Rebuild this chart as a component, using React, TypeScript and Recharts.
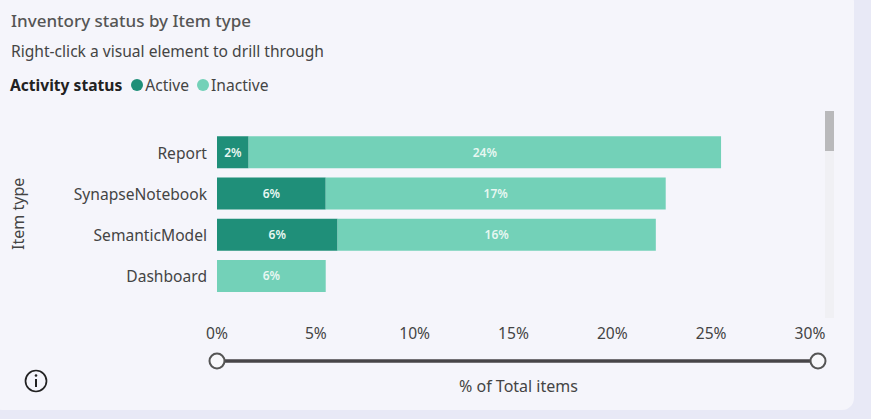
/**
 * Inventory status by item type, stacked horizontal bars
 */
import { BarChart, Bar, XAxis, YAxis, Legend, LabelList } from 'recharts';

const itemTypes = ['Report', 'SynapseNotebook', 'SemanticModel', 'Dashboard'];
const activeShare = [1.6, 5.5, 6.1, 0];
const inactiveShare = [23.9, 17.2, 16.1, 5.5];
const xTicks = [0, 5, 10, 15, 20, 25, 30];

const data = itemTypes.map((type, i) => ({
  type,
  active: activeShare[i],
  inactive: inactiveShare[i],
}));

const FONT = '"Noto Sans", sans-serif';
const ACTIVE_COLOR = '#1f8f79';
const INACTIVE_COLOR = '#73d1b8';

const formatLabel = (value: any) => (value ? `${Math.round(value)}%` : '');

const StatusLegend = () => (
  <div style={{ display: 'flex', alignItems: 'center', fontSize: 15.6, lineHeight: '20px', color: '#444' }}>
    <span style={{ fontWeight: 700, color: '#222', marginRight: 9 }}>Activity status</span>
    <span style={{ width: 12, height: 12, borderRadius: '50%', background: ACTIVE_COLOR, marginRight: 2 }} />
    <span style={{ marginRight: 8 }}>Active</span>
    <span style={{ width: 12, height: 12, borderRadius: '50%', background: INACTIVE_COLOR, marginRight: 2 }} />
    <span>Inactive</span>
  </div>
);

export default function App() {
  return (
    <div
      style={{
        position: 'fixed',
        left: 0,
        top: 0,
        width: 871,
        height: 419,
        overflow: 'hidden',
        background: '#e8e9f6',
        fontFamily: FONT,
      }}
    >
      {/* card */}
      <div
        style={{
          position: 'absolute',
          left: -10,
          top: -10,
          width: 864,
          height: 420,
          borderRadius: 12,
          background: '#f5f5fb',
        }}
      />
      <div style={{ position: 'absolute', left: 11, top: 9, fontSize: 17, color: '#555', fontWeight: 500 }}>
        Inventory status by Item type
      </div>
      <div style={{ position: 'absolute', left: 11, top: 40, fontSize: 15.6, color: '#444' }}>
        Right-click a visual element to drill through
      </div>

      <div style={{ position: 'absolute', left: 0, top: 0 }}>
        <BarChart
          width={871}
          height={419}
          data={data}
          layout="vertical"
          barCategoryGap={4.85}
          margin={{ top: 111.5, right: 61, bottom: 0, left: 0 }}
        >
          <XAxis
            type="number"
            domain={[0, 30]}
            ticks={xTicks}
            interval={0}
            height={122.7}
            axisLine={false}
            tickLine={false}
            tickSize={0}
            tickFormatter={(v) => `${v}%`}
            tick={{ fontSize: 15.6, fill: '#444', fontFamily: FONT, dy: 30 }}
            label={{
              value: '% of Total items',
              position: 'insideBottom',
              offset: 27,
              dx: 5,
              fontSize: 16,
              fill: '#444',
              fontFamily: FONT,
            }}
          />
          <YAxis
            type="category"
            dataKey="type"
            width={217}
            axisLine={false}
            tickLine={false}
            tickSize={0}
            tickMargin={10}
            tick={{ fontSize: 15.6, fill: '#444', fontFamily: FONT, dy: 1 }}
            label={{
              value: 'Item type',
              angle: -90,
              position: 'insideLeft',
              offset: 0,
              dx: 18,
              dy: 36,
              fontSize: 16,
              fill: '#444',
              fontFamily: FONT,
            }}
          />
          <Legend
            verticalAlign="top"
            align="left"
            content={<StatusLegend />}
            wrapperStyle={{ position: 'absolute', left: 10, top: 74.5, width: 400 }}
          />
          <Bar dataKey="active" name="Active" stackId="a" fill={ACTIVE_COLOR} isAnimationActive={false}>
            <LabelList
              dataKey="active"
              position="center"
              formatter={formatLabel}
              style={{ fontSize: 12, fontWeight: 600, fill: '#e8f7f2', fontFamily: FONT }}
            />
          </Bar>
          <Bar dataKey="inactive" name="Inactive" stackId="a" fill={INACTIVE_COLOR} isAnimationActive={false}>
            <LabelList
              dataKey="inactive"
              position="center"
              formatter={formatLabel}
              style={{ fontSize: 12, fontWeight: 600, fill: '#e8f7f2', fontFamily: FONT }}
            />
          </Bar>
        </BarChart>
      </div>

      {/* scrollbar, range slider and info icon */}
      <svg width={871} height={419} style={{ position: 'absolute', left: 0, top: 0, pointerEvents: 'none' }}>
        <rect x={825} y={111} width={9} height={207} fill="#f0f0f4" />
        <rect x={825} y={111} width={9} height={40} fill="#b9b9bb" />
        <line x1={217} y1={361} x2={818} y2={361} stroke="#474548" strokeWidth={3.5} />
        <circle cx={217} cy={361} r={7.5} fill="#f8f8fb" stroke="#555" strokeWidth={2} />
        <circle cx={818} cy={361} r={7.5} fill="#f8f8fb" stroke="#555" strokeWidth={2} />
        <circle cx={36} cy={381} r={10.5} fill="none" stroke="#222" strokeWidth={1.7} />
        <circle cx={36} cy={375.5} r={1.3} fill="#222" />
        <line x1={36} y1={379} x2={36} y2={387} stroke="#222" strokeWidth={2} />
      </svg>
    </div>
  );
}
